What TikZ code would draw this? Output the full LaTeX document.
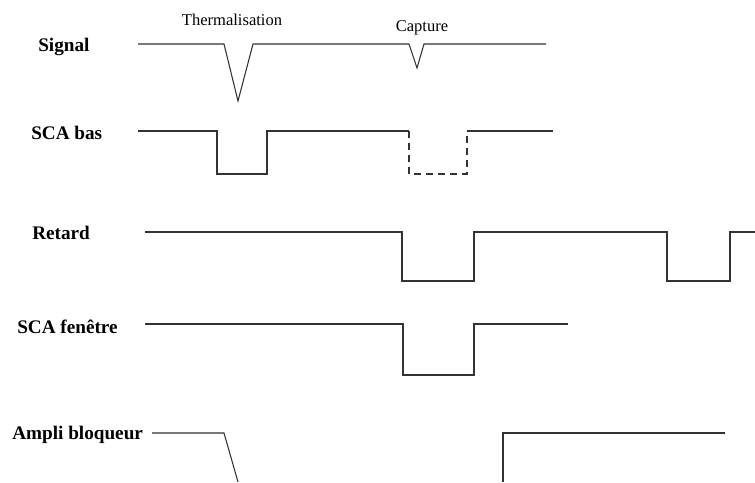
\documentclass[tikz,border=0pt]{standalone}
\usepackage{fontspec}
\setmainfont{Liberation Serif}
\tikzset{
  sig/.style={draw=black!80, line width=0.8pt, line join=miter},
  sigdash/.style={sig, dash pattern=on 5pt off 4pt},
  lbl/.style={font=\fontsize{14.4}{16}\selectfont\bfseries, anchor=base west, inner sep=0pt},
  evt/.style={font=\fontsize{12.4}{14}\selectfont, anchor=base, inner sep=0pt},
}
\begin{document}
\begin{tikzpicture}[x=0.75pt,y=-0.75pt]
\useasboundingbox (0,0) rectangle (755,482);
% labels
\node[lbl] (lsig) at (38,51) {Signal};
\node[lbl] (lbas) at (31,139) {SCA bas};
\node[lbl] (lret) at (32,239) {Retard};
\node[lbl] (lfen) at (17,333) {SCA fenêtre};
\node[lbl] (lamp) at (12,439) {Ampli bloqueur};
\node[evt] (therm) at (232,25) {Thermalisation};
\node[evt] (capt) at (422,31) {Capture};
% Signal
\draw[sig] (138,44) -- (224,44) -- (238,101) -- (253,44) -- (409,44)
  -- (417,68) -- (424,44) -- (546,44);
% SCA bas
\draw[sig] (138,131) -- (217,131) -- (217,174) -- (267,174) -- (267,131) -- (409,131);
\draw[sigdash] (409,131) -- (409,174) -- (467,174) -- (467,131);
\draw[sig] (467,131) -- (553,131);
% Retard
\draw[sig] (145,232) -- (402,232) -- (402,281) -- (474,281) -- (474,232)
  -- (667,232) -- (667,281) -- (730,281) -- (730,232) -- (755,232);
% SCA fenetre
\draw[sig] (145,324) -- (403,324) -- (403,375) -- (474,375) -- (474,324) -- (568,324);
% Ampli bloqueur
\draw[sig] (152,433) -- (224,433) -- (238,482);
\draw[sig] (503,482) -- (503,433) -- (725,433);
\end{tikzpicture}
\end{document}
